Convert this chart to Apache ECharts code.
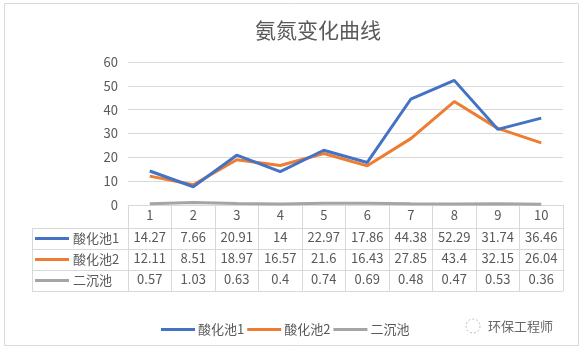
<!DOCTYPE html>
<html>
<head>
<meta charset="utf-8">
<script src="https://cdn.jsdelivr.net/npm/echarts@6/dist/echarts.min.js"></script>
<style>
  html, body { margin: 0; padding: 0; background: #fff; }
  #chart { width: 584px; height: 351px; }
</style>
</head>
<body>
<div id="chart"></div>
<script>
var categories = ['1', '2', '3', '4', '5', '6', '7', '8', '9', '10'];
var seriesNames = ['酸化池1', '酸化池2', '二沉池'];
var pool1 = [14.27, 7.66, 20.91, 14, 22.97, 17.86, 44.38, 52.29, 31.74, 36.46];
var pool2 = [12.11, 8.51, 18.97, 16.57, 21.6, 16.43, 27.85, 43.4, 32.15, 26.04];
var pool3 = [0.57, 1.03, 0.63, 0.4, 0.74, 0.69, 0.48, 0.47, 0.53, 0.36];
var seriesData = [pool1, pool2, pool3];
var colors = ['#4472C4', '#ED7D31', '#A5A5A5'];

var chart = echarts.init(document.getElementById('chart'));
var font = '"Noto Sans CJK SC", "Noto Sans", sans-serif';
var textColor = '#595959';
var lineColor = '#d9d9d9';

// 表格的位置
var gridLeft = 128, gridRight = 563, gridTop = 62, gridBottom = 205;
var rowH = 21;
var tableLeft = 32;

// 数据表: 每行用一个额外的 x 轴的标签来画
var xAxes = [{
    type: 'category',
    data: categories,
    position: 'bottom',
    axisLine: { show: true, lineStyle: { color: lineColor, width: 1 } },
    axisTick: { show: true, interval: 0, length: 86, lineStyle: { color: lineColor } },
    axisLabel: { color: textColor, fontSize: 13, fontFamily: font, margin: 4 }
}];
seriesData.forEach(function (d, k) {
    xAxes.push({
        type: 'category',
        data: categories,
        position: 'bottom',
        offset: 22 + rowH * k,
        axisLine: { show: false },
        axisTick: { show: false },
        axisLabel: {
            color: textColor, fontSize: 13, fontFamily: font, margin: 4, interval: 0,
            formatter: function (v, i) { return String(d[i]); }
        }
    });
});

var graphics = [];
// 外框
graphics.push({
    type: 'rect', shape: { x: 4.5, y: 3.5, width: 574, height: 342 },
    style: { fill: 'none', stroke: lineColor, lineWidth: 1 }, silent: true
});
// 横线
for (var r = 1; r <= 4; r++) {
    var y = gridBottom + 23 + rowH * (r - 1) + 0.5;
    graphics.push({
        type: 'line', shape: { x1: tableLeft, y1: y, x2: gridRight, y2: y },
        style: { stroke: lineColor, lineWidth: 1 }, silent: true
    });
}
graphics.push({
    type: 'line', shape: { x1: tableLeft + 0.5, y1: gridBottom + 23, x2: tableLeft + 0.5, y2: gridBottom + 23 + rowH * 3 },
    style: { stroke: lineColor, lineWidth: 1 }, silent: true
});
// 行标题
seriesNames.forEach(function (name, k) {
    var cy = gridBottom + 23 + rowH * k + rowH / 2;
    graphics.push({
        type: 'line', shape: { x1: 35, y1: cy, x2: 69, y2: cy },
        style: { stroke: colors[k], lineWidth: 3 }, silent: true
    });
    graphics.push({
        type: 'text', x: 73, y: cy,
        style: { text: name, fill: textColor, font: '13px ' + font, verticalAlign: 'middle' }, silent: true
    });
});
// 水印
graphics.push({
    type: 'circle', shape: { cx: 473, cy: 326, r: 7 },
    style: { fill: 'none', stroke: '#bbb', lineWidth: 1, lineDash: [2, 2] }, silent: true
});
graphics.push({
    type: 'text', x: 488, y: 326,
    style: { text: '环保工程师', fill: '#666', font: '13px ' + font, verticalAlign: 'middle' }, silent: true
});

var option = {
    animation: false,
    backgroundColor: '#fff',
    color: colors,
    title: {
        text: '氨氮变化曲线',
        left: 250,
        top: 15,
        textStyle: { color: textColor, fontSize: 21, fontWeight: 'normal', fontFamily: font }
    },
    legend: {
        data: seriesNames,
        left: 156,
        top: 318,
        icon: 'rect',
        itemWidth: 34,
        itemHeight: 3,
        itemGap: 3,
        textStyle: { color: textColor, fontSize: 13, fontFamily: font, padding: [0, 0, 0, -2] }
    },
    grid: {
        left: gridLeft,
        right: 584 - gridRight,
        top: gridTop,
        bottom: 351 - gridBottom,
        containLabel: false
    },
    xAxis: xAxes,
    yAxis: {
        type: 'value',
        min: 0,
        max: 60,
        interval: 10,
        axisLine: { show: false },
        axisTick: { show: false },
        splitLine: { lineStyle: { color: lineColor } },
        axisLabel: { color: textColor, fontSize: 13, fontFamily: font, margin: 10 }
    },
    graphic: graphics,
    series: seriesNames.map(function (name, k) {
        return {
            name: name,
            type: 'line',
            data: seriesData[k],
            symbol: 'none',
            lineStyle: { width: 3, color: colors[k] },
            z: 3 - k + 2
        };
    })
};

chart.setOption(option);
</script>
</body>
</html>
